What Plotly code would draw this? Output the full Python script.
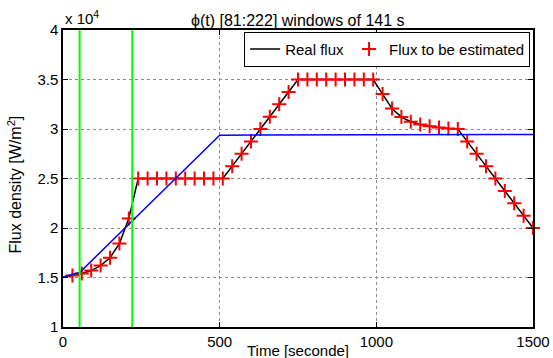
import plotly.graph_objects as go

# Sampling instants [s] and the reference ("real") flux density [W/m^2]
time_s = [0, 30, 60, 90, 120, 150, 180, 210, 240, 270, 300, 330, 360, 390, 420,
          450, 480, 510, 540, 570, 600, 630, 660, 690, 720, 750, 780, 810, 840,
          870, 900, 930, 960, 990, 1020, 1050, 1080, 1110, 1140, 1170, 1200,
          1230, 1260, 1290, 1320, 1350, 1380, 1410, 1440, 1470, 1500]
real_flux = [15000, 15200, 15400, 15700, 16200, 17000, 18430, 20950, 25000, 25000,
             25000, 25000, 25000, 25000, 25000, 25000, 25000, 25000, 26250, 27500,
             28750, 30000, 31250, 32500, 33750, 35000, 35000, 35000, 35000, 35000,
             35000, 35000, 35000, 35000, 33530, 32060, 31200, 30730, 30460, 30270,
             30140, 30040, 30000, 28750, 27500, 26250, 25000, 23750, 22500, 21250,
             20000]

# Identified flux (blue curve)
est_time = [0, 53, 500, 1500]
est_flux = [15050, 15500, 29380, 29450]

# Bounds of the identification window
window_bounds = [53, 221]

y_ticks = [10000, 15000, 20000, 25000, 30000, 35000, 40000]
y_tick_text = ["1", "1.5", "2", "2.5", "3", "3.5", "4"]
x_ticks = [0, 500, 1000, 1500]

FONT = "Liberation Sans, Arial, sans-serif"

fig = go.Figure()

fig.add_trace(go.Scatter(
    x=time_s, y=real_flux, mode="lines", name="Real flux",
    line=dict(color="black", width=1.5)))

fig.add_trace(go.Scatter(
    x=time_s[1:], y=real_flux[1:], mode="markers", name="Flux to be estimated",
    cliponaxis=False,
    marker=dict(symbol="cross-thin", size=10, color="red",
                line=dict(color="red", width=2))))

fig.add_trace(go.Scatter(
    x=est_time, y=est_flux, mode="lines", showlegend=False,
    line=dict(color="#0000ff", width=1.5)))

for tb in window_bounds:
    fig.add_trace(go.Scatter(
        x=[tb, tb], y=[y_ticks[0], y_ticks[-1]], mode="lines", showlegend=False,
        line=dict(color="#00ff00", width=2)))

axis_common = dict(
    showline=True, linecolor="black", linewidth=1.5, mirror="ticks",
    ticks="inside", ticklen=5, tickcolor="black", tickwidth=1,
    showgrid=True, gridcolor="#8c8c8c", griddash="dot", gridwidth=1,
    zeroline=False, tickfont=dict(family=FONT, size=15, color="black"),
)

fig.update_xaxes(range=[0, 1500], tickvals=x_ticks,
                 ticktext=[str(v) for v in x_ticks], **axis_common)
fig.update_yaxes(range=[10000, 40000], tickvals=y_ticks,
                 ticktext=y_tick_text, **axis_common)

fig.update_layout(
    width=553, height=358,
    margin=dict(l=63, r=20, t=30, b=31, autoexpand=False),
    paper_bgcolor="white", plot_bgcolor="white",
    font=dict(family=FONT, color="black"),
    showlegend=True,
    legend=dict(
        orientation="h", x=0.994, xanchor="right", y=0.994, yanchor="top",
        bgcolor="white", bordercolor="black", borderwidth=1,
        font=dict(family=FONT, size=15, color="black"),
        itemwidth=30, tracegroupgap=0,
    ),
    annotations=[
        dict(text="\u03d5(t) [81:222] windows of 141 s", xref="paper", yref="paper",
             x=0.5, y=1.033, xanchor="center", yanchor="middle", showarrow=False,
             font=dict(family=FONT, size=16)),
        dict(text="x 10<sup>4</sup>", xref="paper", yref="paper",
             x=0.0, y=1.003, xanchor="left", yanchor="bottom", showarrow=False,
             font=dict(family=FONT, size=15)),
        dict(text="Time [seconde]", xref="paper", yref="paper",
             x=0.5, y=-0.078, xanchor="center", yanchor="middle", showarrow=False,
             font=dict(family=FONT, size=15)),
        dict(text="Flux density [W/m<sup>2</sup>]", xref="paper", yref="paper",
             x=-0.102, y=0.48, xanchor="center", yanchor="middle", showarrow=False,
             textangle=-90, font=dict(family=FONT, size=16)),
    ],
)

fig.write_html("out.html")
